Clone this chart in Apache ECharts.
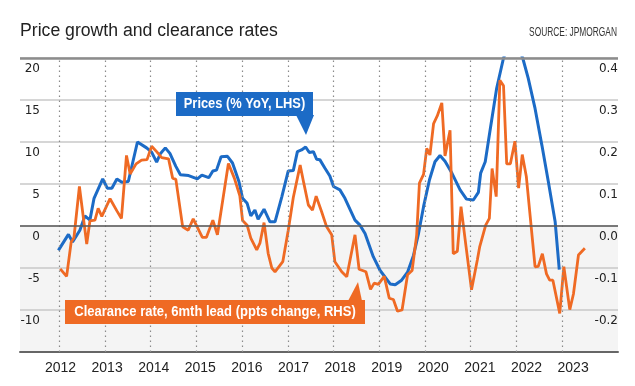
<!DOCTYPE html>
<html><head><meta charset="utf-8">
<script src="https://cdn.jsdelivr.net/npm/echarts@6/dist/echarts.min.js"></script>
<style>html,body{margin:0;padding:0;background:#fff}#c{width:635px;height:386px}</style>
</head><body><div id="c"></div>
<script>
// Prices (% YoY, LHS): decimal year, value
const priceYears = [2011.98,2012.20,2012.29,2012.45,2012.56,2012.67,2012.76,2012.95,2013.05,2013.15,2013.26,2013.37,2013.51,2013.71,2013.91,2014.02,2014.13,2014.21,2014.32,2014.42,2014.55,2014.65,2014.83,2015.02,2015.12,2015.27,2015.36,2015.44,2015.54,2015.68,2015.79,2015.93,2016.01,2016.11,2016.19,2016.28,2016.35,2016.48,2016.61,2016.72,2016.87,2017.01,2017.12,2017.21,2017.30,2017.39,2017.47,2017.56,2017.63,2017.70,2017.81,2017.92,2018.00,2018.14,2018.25,2018.47,2018.58,2018.69,2018.87,2019.02,2019.24,2019.35,2019.49,2019.62,2019.75,2019.86,2019.97,2020.10,2020.22,2020.33,2020.44,2020.59,2020.77,2020.91,2021.06,2021.17,2021.22,2021.32,2021.42,2021.57,2021.72,2021.93,2022.14,2022.26,2022.41,2022.56,2022.70,2022.85,2022.94];
const priceValues = [-2.9,-1.0,-1.9,-0.5,1.2,0.7,3.3,5.6,4.5,4.5,5.6,5.2,5.3,10.0,9.3,8.8,7.6,8.6,9.3,8.65,7.1,6.1,6.0,5.6,6.05,5.75,6.55,6.65,8.25,8.3,7.5,5.3,3.3,2.7,1.2,1.9,0.8,2.0,0.5,0.5,3.5,6.55,6.6,8.85,9.05,9.4,8.75,8.85,7.95,7.9,6.9,5.95,4.7,4.3,3.3,0.7,0.1,-0.9,-3.65,-5.3,-6.9,-7.0,-6.45,-5.5,-3.5,-0.9,2.3,5.5,7.65,8.4,7.7,6.3,4.3,3.2,3.1,4.0,6.3,7.65,11.2,16.4,20.0,23.0,20.0,17.6,14.0,9.6,5.3,0.5,-5.2];

// Clearance rate, 6mth lead (ppts change, RHS)
const clearYears = [2012.02,2012.16,2012.26,2012.32,2012.44,2012.60,2012.67,2012.78,2012.85,2012.93,2013.11,2013.26,2013.36,2013.47,2013.55,2013.68,2013.80,2013.92,2014.02,2014.13,2014.24,2014.39,2014.48,2014.55,2014.70,2014.82,2014.93,2015.13,2015.22,2015.36,2015.46,2015.70,2015.83,2015.95,2016.01,2016.11,2016.19,2016.32,2016.39,2016.48,2016.57,2016.65,2016.72,2016.89,2017.01,2017.12,2017.27,2017.35,2017.45,2017.54,2017.62,2017.74,2017.85,2017.96,2018.03,2018.18,2018.29,2018.47,2018.56,2018.71,2018.81,2018.89,2018.98,2019.11,2019.22,2019.31,2019.40,2019.50,2019.62,2019.72,2019.82,2019.88,2019.97,2020.04,2020.11,2020.19,2020.27,2020.37,2020.44,2020.55,2020.62,2020.71,2020.79,2020.90,2021.02,2021.15,2021.20,2021.33,2021.41,2021.47,2021.56,2021.64,2021.72,2021.79,2021.87,2021.97,2022.05,2022.13,2022.22,2022.41,2022.48,2022.57,2022.66,2022.73,2022.80,2022.95,2023.04,2023.17,2023.25,2023.36,2023.50];
const clearValues = [-0.102,-0.120,-0.038,-0.028,0.094,-0.043,0.012,0.014,0.042,0.023,0.065,0.036,0.018,0.168,0.124,0.148,0.157,0.158,0.190,0.177,0.163,0.160,0.114,0.111,-0.002,-0.010,0.017,-0.027,-0.027,0.014,-0.021,0.149,0.114,0.072,0.013,0.002,-0.029,-0.057,-0.041,0.008,-0.065,-0.100,-0.109,-0.085,-0.010,0.068,0.145,0.102,0.050,0.038,0.071,0.034,-0.002,-0.021,-0.085,-0.109,-0.121,-0.021,-0.103,-0.109,-0.151,-0.136,-0.139,-0.120,-0.172,-0.175,-0.203,-0.200,-0.116,-0.106,-0.021,0.102,0.123,0.185,0.169,0.244,0.262,0.293,0.167,0.228,-0.066,-0.060,0.046,-0.049,-0.152,-0.079,-0.049,0.002,0.018,0.137,0.070,0.347,0.334,0.148,0.148,0.202,0.090,0.170,0.117,-0.097,-0.096,-0.066,-0.114,-0.129,-0.129,-0.208,-0.097,-0.199,-0.162,-0.069,-0.053];

const yearTicks = [2012,2013,2014,2015,2016,2017,2018,2019,2020,2021,2022,2023];
const yearLabels = ['2012','2013','2014','2015','2016','2017','2018','2019','2020','2021','2022','2023'];

const BLUE = '#1c6bc6';
const ORANGE = '#ef6a24';
const SANS = '"Liberation Sans", Arial, sans-serif';

const chart = echarts.init(document.getElementById('c'));
const zip = (xs, ys) => xs.map((x, i) => [x, ys[i]]);

chart.setOption({
  animation: false,
  backgroundColor: '#fff',
  grid: [
    { left: 20, right: 17, top: 58, bottom: 34 },
    { left: 13.9, right: 15.3, top: 58, bottom: 34 }
  ],
  xAxis: [
    { type: 'value', gridIndex: 0, min: 2011.14, max: 2024.225,
      axisLine: { show: true, onZero: false, lineStyle: { color: '#666', width: 2 } },
      axisTick: { show: false }, axisLabel: { show: false }, splitLine: { show: false } },
    { type: 'value', gridIndex: 1, min: 2011, max: 2024, interval: 1,
      axisLine: { show: false }, axisTick: { show: false }, splitLine: { show: false },
      axisLabel: { margin: 9, fontFamily: SANS, fontSize: 14, color: '#222',
        formatter: v => { const i = yearTicks.indexOf(Math.round(v)); return i >= 0 ? yearLabels[i] : ''; } } }
  ],
  yAxis: [
    { type: 'value', gridIndex: 0, min: -15, max: 20, interval: 5, position: 'left',
      axisLine: { show: false }, axisTick: { show: false },
      splitLine: { lineStyle: { color: '#c9c9c9', width: 1.5 } },
      splitArea: { show: true, areaStyle: { color: ['#f4f4f4','#f4f4f4','#f4f4f4','#ffffff','#ffffff','#ffffff','#ffffff'] } },
      axisLabel: { margin: -20, verticalAlign: 'top', padding: [5,0,0,0], fontFamily: '"DejaVu Sans", sans-serif', fontSize: 12, color: '#222',
        formatter: v => v <= -15 ? '' : String(v) } },
    { type: 'value', gridIndex: 0, min: -0.3, max: 0.4, interval: 0.1, position: 'right',
      axisLine: { show: false }, axisTick: { show: false }, splitLine: { show: false },
      axisLabel: { margin: 0, align: 'right', verticalAlign: 'top', padding: [5,0,0,0], fontFamily: '"DejaVu Sans", sans-serif', fontSize: 12, color: '#222',
        formatter: v => v < -0.25 ? '' : v.toFixed(1) } },
    { type: 'value', gridIndex: 1, min: 0, max: 1, show: false }
  ],
  series: [
    { type: 'line', xAxisIndex: 0, yAxisIndex: 0, data: [], z: 1, silent: true,
      markLine: { silent: true, symbol: ['none','none'], label: { show: false },
        data: yearTicks.map(y => ({ xAxis: y, lineStyle: { type: [1.5, 3.5], color: '#8a8a8a', width: 1.2 } }))
          .concat([
            { yAxis: 0, lineStyle: { type: 'solid', color: '#5a5a5a', width: 1.5 } },
            { yAxis: 20, lineStyle: { type: 'solid', color: '#8c8c8c', width: 2.5 } }
          ]) } },
    { name: 'Prices', type: 'line', xAxisIndex: 0, yAxisIndex: 0, data: zip(priceYears, priceValues),
      showSymbol: false, clip: true, z: 3, lineStyle: { color: BLUE, width: 3 }, itemStyle: { color: BLUE } },
    { name: 'Clearance', type: 'line', xAxisIndex: 0, yAxisIndex: 1, data: zip(clearYears, clearValues),
      showSymbol: false, clip: true, z: 4, lineStyle: { color: ORANGE, width: 2.8 }, itemStyle: { color: ORANGE } }
  ],
  graphic: [
    { type: 'text', x: 20, y: 31, z: 11, scaleX: 0.98, style: { text: 'Price growth and clearance rates', fill: '#222', align: 'left', verticalAlign: 'middle',
      font: '18px ' + SANS } },
    { type: 'text', x: 617, y: 32.5, z: 11, scaleX: 0.67, style: { text: 'SOURCE: JPMORGAN', fill: '#333', align: 'right', verticalAlign: 'middle',
      font: '12.5px ' + SANS } },
    { type: 'rect', shape: { x: 176, y: 92, width: 137, height: 24 }, style: { fill: BLUE }, z: 10 },
    { type: 'polygon', shape: { points: [[296,115],[314,115],[306,135]] }, style: { fill: BLUE }, z: 10 },
    { type: 'text', x: 244.5, y: 104, z: 11, scaleX: 0.92, style: { text: 'Prices (% YoY, LHS)', fill: '#fff', align: 'center', verticalAlign: 'middle',
      font: 'bold 14px ' + SANS } },
    { type: 'rect', shape: { x: 65, y: 300, width: 300, height: 24 }, style: { fill: ORANGE }, z: 10 },
    { type: 'polygon', shape: { points: [[348,301],[362,301],[358,282]] }, style: { fill: ORANGE }, z: 10 },
    { type: 'text', x: 215, y: 312, z: 11, scaleX: 0.93, style: { text: 'Clearance rate, 6mth lead (ppts change, RHS)', fill: '#fff', align: 'center', verticalAlign: 'middle',
      font: 'bold 14px ' + SANS } }
  ]
});
</script>
</body></html>
